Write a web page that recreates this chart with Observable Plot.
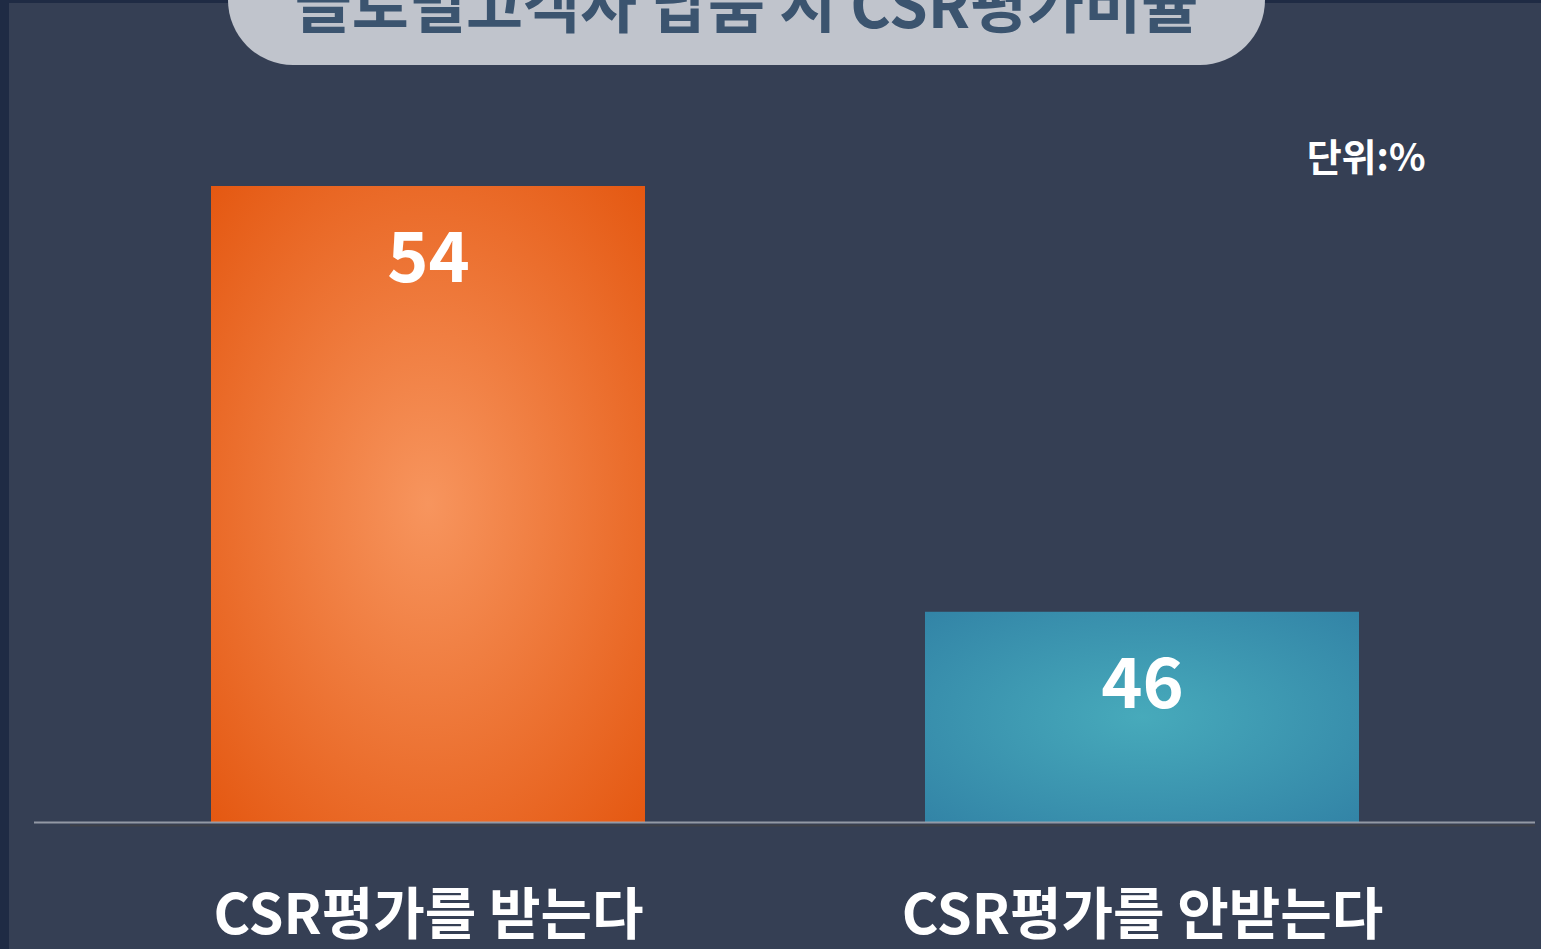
<!DOCTYPE html>
<html>
<head>
<meta charset="utf-8">
<script src="https://cdn.jsdelivr.net/npm/d3@7"></script>
<script src="https://cdn.jsdelivr.net/npm/@observablehq/plot@0.6"></script>
<style>
  html, body { margin: 0; padding: 0; width: 1541px; height: 949px; overflow: hidden; background: #1f2b44; }
  #page { position: absolute; left: 9px; top: 3px; width: 1532px; height: 946px; background: #353f54; }
  #chart { position: absolute; left: 0; top: 0; }
  #title { position: absolute; left: 228px; top: -65px; width: 1037px; height: 130px; border-radius: 65px;
           background: #c0c4cc; z-index: 2; overflow: hidden; }
  #title span { position: absolute; left: 0; right: 0; top: 35px; text-align: center; line-height: 62px;
           font-family: "Noto Sans CJK KR", sans-serif; font-weight: 700; font-size: 62px; color: #3b546f;
           letter-spacing: 0px; white-space: nowrap; }
  svg text { font-family: "Noto Sans CJK KR", "Noto Sans", sans-serif; }
</style>
</head>
<body>
<div id="page"></div>
<div id="title"><span>글로벌고객사 납품 시 CSR평가비율</span></div>
<div id="chart"></div>
<script>
const categories = ["CSR평가를 받는다", "CSR평가를 안받는다"];
const values = [54, 46];
const gradientIds = ["gradOrange", "gradBlue"];
const unitLabel = "단위:%";

const data = categories.map((c, i) => ({category: c, value: values[i], grad: `url(#${gradientIds[i]})`}));
const yBase = 42.05;

const plot = Plot.plot({
  width: 1541,
  height: 949,
  marginTop: 186,
  marginBottom: 127,
  marginLeft: 35,
  marginRight: 6,
  style: {background: "transparent", overflow: "visible"},
  x: {domain: categories, paddingInner: 0.392, paddingOuter: 0.245, label: null},
  y: {domain: [yBase, 54], axis: null},
  marks: [
    Plot.rectY(data, {x: "category", y1: yBase, y2: "value", fill: "grad"}),
    Plot.ruleY([yBase], {stroke: "#3e4148", strokeWidth: 2, dy: 3, insetLeft: 35}),
    Plot.ruleY([yBase], {stroke: "#a3a9b4", strokeOpacity: 0.85, strokeWidth: 2, insetLeft: -1}),
    Plot.text(data, {x: "category", y: "value", text: d => String(d.value), dy: 73,
      fill: "white", fontSize: 70, fontWeight: 700}),
    Plot.axisX({tickSize: 0, tickPadding: 72, fontSize: 56, fontWeight: 700, color: "white",
      fill: "white", label: null}),
    Plot.text([unitLabel], {frameAnchor: "top-right", dx: -110, dy: -42, textAnchor: "end",
      fill: "white", fontSize: 38, fontWeight: 700})
  ]
});

// gradients
const svg = d3.select(plot);
const defs = svg.insert("defs", ":first-child");
function grad(id, c0, c1) {
  const g = defs.append("radialGradient").attr("id", id)
    .attr("cx", 0.5).attr("cy", 0.5).attr("r", 0.72);
  g.append("stop").attr("offset", 0).attr("stop-color", c0);
  g.append("stop").attr("offset", 1).attr("stop-color", c1);
}
grad("gradOrange", "#f7955e", "#e45710");
grad("gradBlue", "#47aabb", "#3283a6");

document.getElementById("chart").appendChild(plot);
</script>
</body>
</html>
